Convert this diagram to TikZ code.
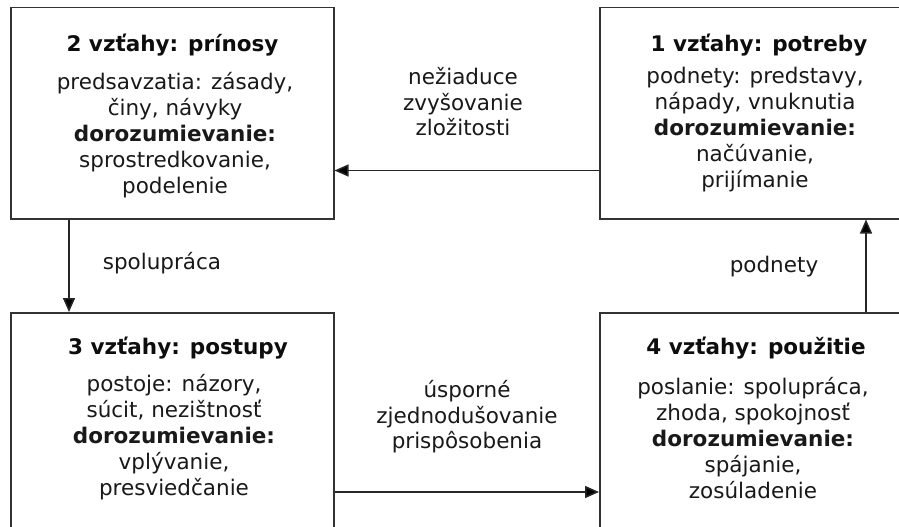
\documentclass[tikz,border=0pt]{standalone}
\usepackage{fontspec}
\setmainfont{DejaVu Sans}
\usetikzlibrary{arrows.meta}
\begin{document}
\begin{tikzpicture}[x=1pt,y=-1pt,
  boxst/.style={draw=black!80,line width=1.5pt,rectangle,inner sep=0pt,anchor=north west,minimum width=323pt},
  ttl/.style={font=\fontsize{21.5pt}{26pt}\selectfont\bfseries,inner sep=0pt,text=black!95},
  body/.style={font=\fontsize{21.5pt}{26pt}\selectfont,align=center,inner sep=0pt,text=black!90},
  lbl/.style={font=\fontsize{21.5pt}{25.5pt}\selectfont,align=center,inner sep=0pt,text=black!90},
  arr/.style={draw=black!85,line width=1.5pt,-{Triangle[length=14pt,width=12pt,fill=black]}}]
\useasboundingbox (0,0) rectangle (899,527);
\clip (0,0) rectangle (899,527);
\fill[white] (0,0) rectangle (899,527);
% boxes
\node[boxst,minimum height=211pt] (b2) at (10,7) {};
\node[boxst,minimum height=211pt] (b1) at (599,7) {};
\node[boxst,minimum height=240pt] (b3) at (10,312) {};
\node[boxst,minimum height=240pt] (b4) at (599,312) {};
% box texts
\node[ttl] (t2) at (172.5,45) {2 vzťahy: prínosy};
\node[body] (c2) at (175,135) {predsavzatia: zásady,\\ činy, návyky\\ \textbf{dorozumievanie:}\\ sprostredkovanie,\\ podelenie};
\node[ttl] (t1) at (759,45) {1 vzťahy: potreby};
\node[body] (c1) at (755,130) {podnety: predstavy,\\ nápady, vnuknutia\\ \textbf{dorozumievanie:}\\ načúvanie,\\ prijímanie};
\node[ttl] (t3) at (178,348) {3 vzťahy: postupy};
\node[body] (c3) at (174,437) {postoje: názory,\\ súcit, nezištnosť\\ \textbf{dorozumievanie:}\\ vplývanie,\\ presviedčanie};
\node[ttl] (t4) at (756,348) {4 vzťahy: použitie};
\node[body] (c4) at (753,438) {poslanie: spolupráca,\\ zhoda, spokojnosť\\ \textbf{dorozumievanie:}\\ spájanie,\\ zosúladenie};
% labels
\node[lbl] (l12) at (463,102) {nežiaduce\\ zvyšovanie\\ zložitosti};
\node[lbl] (l34) at (467,417) {úsporné\\ zjednodušovanie\\ prispôsobenia};
\node[lbl] (l23) at (162,263) {spolupráca};
\node[lbl] (l41) at (774,267) {podnety};
% arrows
\draw[arr] ([yshift=49]b1.south west) -- ([yshift=49]b2.south east);
\draw[arr] ([xshift=59]b2.south west) -- ([xshift=59]b3.north west);
\draw[arr] ([yshift=-180]b3.north east) -- ([yshift=-180]b4.north west);
\draw[arr] ([xshift=267]b4.north west) -- ([xshift=267]b1.south west);
\end{tikzpicture}
\end{document}
